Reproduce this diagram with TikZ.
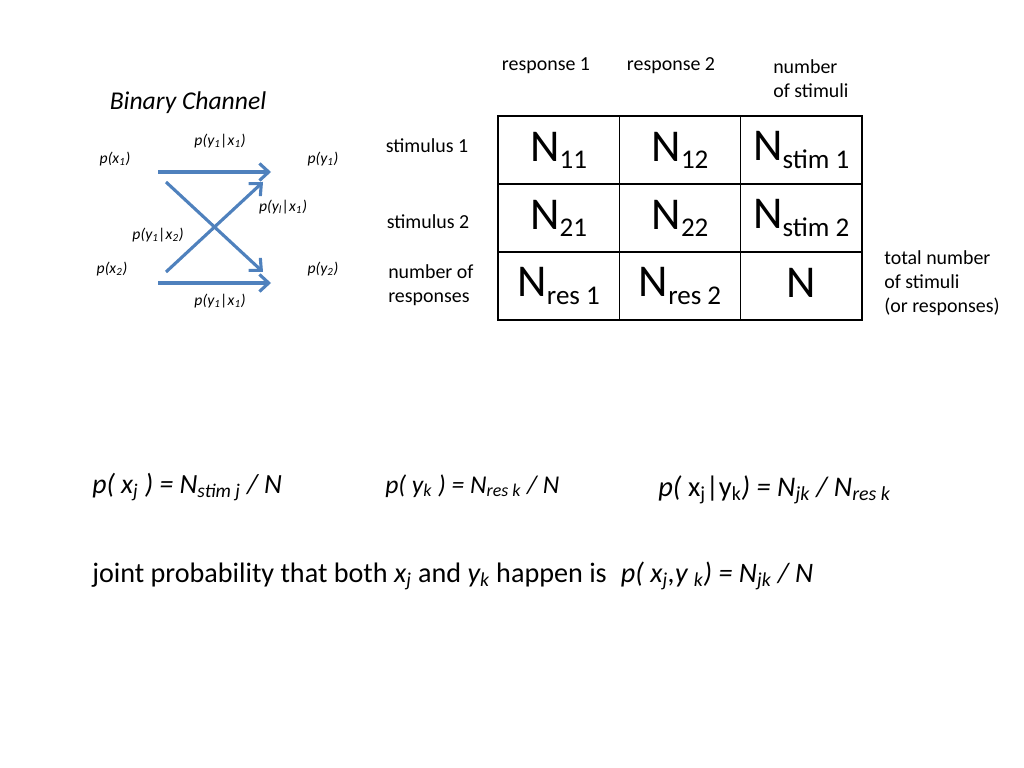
\documentclass[tikz,border=0pt]{standalone}
\usepackage{fontspec}
\setmainfont{Carlito}
\usetikzlibrary{arrows.meta}
\definecolor{chanblue}{RGB}{79,129,189}
\tikzset{%
	lbl/.style={inner sep=0pt, font=\fontsize{14}{17}\selectfont},
	plbl/.style={inner sep=0pt, font=\fontsize{11}{13}\selectfont\itshape},
	cell/.style={draw, line width=0.9pt, minimum width=85.3pt, minimum height=47.8pt, inner sep=0pt, font=\fontsize{32}{32}\selectfont},
	frm/.style={anchor=base west, inner sep=0pt},
	arrow/.style={chanblue, line width=2.2pt, -{Straight Barb[length=6.5pt,width=12pt]}}}
\newcommand{\Nsub}[1]{N{\fontsize{19}{19}\selectfont\raisebox{-5pt}{#1}}}
\begin{document}
\begin{tikzpicture}[x=0.703125pt, y=-0.703125pt]
		\useasboundingbox (0,0) rectangle (1024,768);
		% binary channel
		\node[inner sep=0pt, font=\fontsize{18}{21}\selectfont\itshape] (title) at (188,103) {Binary Channel};
		\node[plbl] (px1) at (115,159) {p(x\textsubscript{1})};
		\node[plbl] (px2) at (112,269) {p(x\textsubscript{2})};
		\node[plbl] (py1) at (323,159) {p(y\textsubscript{1})};
		\node[plbl] (py2) at (323,269) {p(y\textsubscript{2})};
		\node[plbl] (c11) at (220,141) {p(y\textsubscript{1}|x\textsubscript{1})};
		\node[plbl] (c12) at (283,207) {p(y\textsubscript{l}|x\textsubscript{1})};
		\node[plbl] (c21) at (158,235) {p(y\textsubscript{1}|x\textsubscript{2})};
		\node[plbl] (c22) at (220,301) {p(y\textsubscript{1}|x\textsubscript{1})};
		
		\coordinate (a1) at (158,172);
		\coordinate (b1) at (271,172);
		\coordinate (a2) at (158,283);
		\coordinate (b2) at (271,283);
		\coordinate (d1) at (166,182);
		\coordinate (e1) at (263,272);
		\coordinate (d2) at (166,272);
		\coordinate (e2) at (263,182);
		\path[arrow] (a1) 	edge []  node [] 	{} (b1);
		\path[arrow] (a2) 	edge []  node [] 	{} (b2);
		\path[arrow] (d1) 	edge []  node [] 	{} (e1);
		\path[arrow] (d2) 	edge []  node [] 	{} (e2);
		
		% table
		\node[cell] (n11) at (558.7,150) {\Nsub{11}};
		\node[cell] (n12) at (680,150) {\Nsub{12}};
		\node[cell] (ns1) at (801.3,150) {\Nsub{stim 1}};
		\node[cell] (n21) at (558.7,218) {\Nsub{21}};
		\node[cell] (n22) at (680,218) {\Nsub{22}};
		\node[cell] (ns2) at (801.3,218) {\Nsub{stim 2}};
		\node[cell] (nr1) at (558.7,286) {\Nsub{res 1}};
		\node[cell] (nr2) at (680,286) {\Nsub{res 2}};
		\node[cell] (nn) at (801.3,286) {\raisebox{4pt}{N}};
		
		\node[lbl] (r1) at (546,66) {response 1};
		\node[lbl] (r2) at (671,66) {response 2};
		\node[lbl, anchor=west, align=left] (nstim) at (773,79) {number\\of stimuli};
		\node[lbl] (s1) at (427,146) {stimulus 1};
		\node[lbl] (s2) at (428,222) {stimulus 2};
		\node[lbl, anchor=west, align=left] (nres) at (388,285) {number of\\responses};
		\node[lbl, anchor=west, align=left] (tot) at (884,283) {total number\\of stimuli\\(or responses)};
		
		% formulas
		\node[frm, font=\fontsize{19.5}{23}\selectfont\itshape] (f1) at (92,493) {p( x\textsubscript{j} ) = N\textsubscript{stim j} / N};
		\node[frm, font=\fontsize{18}{21}\selectfont\itshape] (f2) at (385,493) {p( y\textsubscript{k} ) = N\textsubscript{res k} / N};
		\node[frm, font=\fontsize{20}{24}\selectfont] (f3) at (658,496) {\textit{p(} x\textsubscript{j}|y\textsubscript{k}\textit{) = N\textsubscript{jk} / N\textsubscript{res k}}};
		\node[frm, font=\fontsize{19.8}{24}\selectfont] (joint) at (92,582) {joint probability that both \textit{x\textsubscript{j}} and \textit{y\textsubscript{k}} happen is\hspace{10pt}\textit{p( x\textsubscript{j},y \textsubscript{k}) = N\textsubscript{jk} / N}};
	\end{tikzpicture}
\end{document}
